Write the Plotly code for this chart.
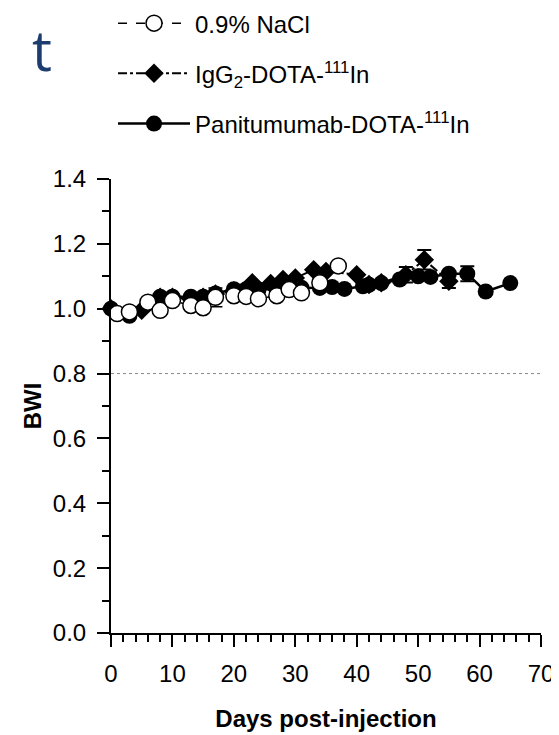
import plotly.graph_objects as go

# ---- data ----
nacl_days = [1, 3, 6, 8, 10, 13, 15, 17, 20, 22, 24, 27, 29, 31, 34, 37]
nacl_bwi = [0.985, 0.99, 1.02, 0.995, 1.025, 1.01, 1.003, 1.035, 1.04, 1.038,
            1.031, 1.04, 1.059, 1.049, 1.08, 1.132]
nacl_err = [0, 0, 0, 0, 0, 0, 0, 0.029, 0, 0, 0, 0, 0, 0, 0, 0]

igg_days = [0, 3, 5, 8, 10, 13, 15, 17, 20, 23, 26, 28, 30, 33, 35, 40, 42, 44, 48, 51, 55]
igg_bwi = [1.0, 0.985, 0.995, 1.035, 1.035, 1.03, 1.035, 1.045, 1.055, 1.08, 1.078,
           1.09, 1.095, 1.12, 1.115, 1.105, 1.075, 1.08, 1.105, 1.151, 1.085]
igg_err = [0, 0, 0, 0, 0, 0, 0, 0, 0, 0, 0, 0, 0, 0, 0, 0, 0, 0, 0.024, 0.03, 0.021]

pan_days = [0, 3, 8, 10, 13, 15, 17, 20, 22, 24, 27, 29, 31, 34, 36, 38, 41, 42, 44,
            47, 50, 52, 55, 58, 61, 65]
pan_bwi = [1.0, 0.978, 1.037, 1.037, 1.037, 1.037, 1.047, 1.06, 1.06, 1.058, 1.062,
           1.065, 1.065, 1.064, 1.067, 1.061, 1.069, 1.074, 1.079, 1.09, 1.10, 1.098,
           1.108, 1.108, 1.053, 1.079]
pan_err = [0] * 23 + [0.023, 0, 0]

x_ticks = [0, 10, 20, 30, 40, 50, 60, 70]
y_ticks = [0.0, 0.2, 0.4, 0.6, 0.8, 1.0, 1.2, 1.4]
threshold = 0.8

FONT = "Liberation Sans, Arial, sans-serif"

fig = go.Figure()

fig.add_trace(go.Scatter(
    x=igg_days, y=igg_bwi, mode="lines+markers",
    name="IgG<sub>2</sub>-DOTA-<sup>111</sup>In",
    legendgroup="b", legendrank=2,
    line=dict(color="black", width=2, dash="dashdot"),
    marker=dict(symbol="diamond", size=15, color="black"),
    error_y=dict(type="data", array=igg_err, color="black", thickness=2, width=7),
    cliponaxis=False,
))
fig.add_trace(go.Scatter(
    x=pan_days, y=pan_bwi, mode="lines+markers",
    name="Panitumumab-DOTA-<sup>111</sup>In",
    legendgroup="c", legendrank=3,
    line=dict(color="black", width=2.5),
    marker=dict(symbol="circle", size=16, color="black"),
    error_y=dict(type="data", array=pan_err, color="black", thickness=2, width=7),
    cliponaxis=False,
))
fig.add_trace(go.Scatter(
    x=nacl_days, y=nacl_bwi, mode="lines+markers",
    name="0.9% NaCl",
    legendgroup="a", legendrank=1,
    line=dict(color="black", width=1.5, dash="dash"),
    marker=dict(symbol="circle", size=16, color="white", line=dict(color="black", width=1.5)),
    error_y=dict(type="data", array=nacl_err, color="black", thickness=1.5, width=7),
    cliponaxis=False,
))

fig.add_shape(type="line", xref="x", yref="y", x0=0, x1=70, y0=threshold, y1=threshold,
              line=dict(color="#888888", width=1, dash="dot"), layer="below")

fig.add_annotation(text="t", xref="paper", yref="paper", x=-0.188, y=1.374,
                   xanchor="left", yanchor="top", showarrow=False,
                   font=dict(family="Open Sans, sans-serif", size=56, color="#1d3d6e"))

fig.update_layout(
    width=551, height=727,
    margin=dict(l=103, r=18, t=171, b=102, autoexpand=False),
    paper_bgcolor="white", plot_bgcolor="white",
    font=dict(family=FONT, color="black"),
    showlegend=True,
    legend=dict(x=0.0047, y=1.392, xanchor="left", yanchor="top",
                font=dict(family=FONT, size=24, color="black"),
                tracegroupgap=16, bgcolor="rgba(0,0,0,0)", itemwidth=72,
                traceorder="grouped"),
    xaxis=dict(range=[0, 70], tickvals=x_ticks, ticktext=[str(v) for v in x_ticks],
               showline=True, linecolor="black", linewidth=2,
               ticks="outside", ticklen=12, tickwidth=2, tickcolor="black",
               minor=dict(dtick=2, tick0=0, ticks="outside", ticklen=7, tickwidth=2, tickcolor="black"),
               showgrid=False, zeroline=False,
               tickfont=dict(family=FONT, size=24),
               ticklabelstandoff=6,
               title=dict(text="<b>Days post-injection</b>", font=dict(family=FONT, size=24), standoff=24)),
    yaxis=dict(range=[0, 1.4], tickvals=y_ticks, ticktext=[f"{v:.1f}" for v in y_ticks],
               showline=True, linecolor="black", linewidth=2,
               ticks="outside", ticklen=12, tickwidth=2, tickcolor="black",
               minor=dict(dtick=0.1, tick0=0, ticks="outside", ticklen=7, tickwidth=2, tickcolor="black"),
               showgrid=False, zeroline=False,
               tickfont=dict(family=FONT, size=24),
               ticklabelstandoff=6,
               title=dict(text="<b>BWI</b>", font=dict(family=FONT, size=24), standoff=4)),
)

fig.write_html("out.html")
